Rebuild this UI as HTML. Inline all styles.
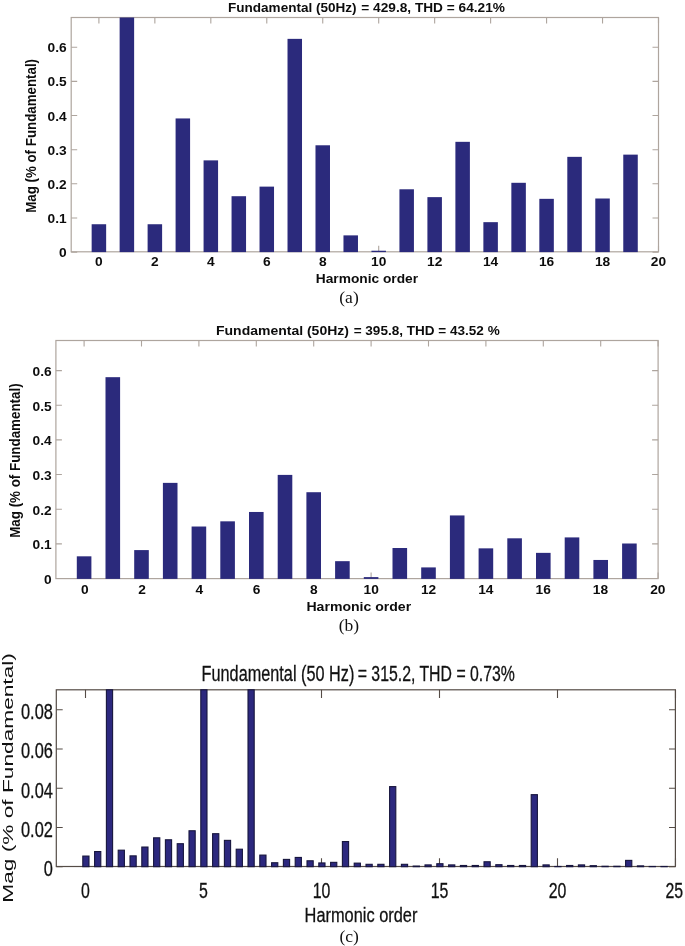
<!DOCTYPE html>
<html><head><meta charset="utf-8"><title>Harmonic spectra</title>
<style>
html,body{margin:0;padding:0;background:#fff;}
body{width:685px;height:946px;overflow:hidden;}
svg{display:block;font-family:"Liberation Sans",sans-serif;filter:blur(0.35px);}
.b{font-weight:bold;fill:#0c0c0c;}
.cap{font-family:"Liberation Serif",serif;fill:#111;}
.c{fill:#111;stroke:#111;stroke-width:0.3px;}
.cy{fill:#111;}
</style></head><body>
<svg width="685" height="946" viewBox="0 0 685 946">
<rect width="685" height="946" fill="#fff"/>
<g>
<path d="M98.90 251.8v-6M98.90 17.5v6M154.86 251.8v-6M154.86 17.5v6M210.82 251.8v-6M210.82 17.5v6M266.78 251.8v-6M266.78 17.5v6M322.74 251.8v-6M322.74 17.5v6M378.70 251.8v-6M378.70 17.5v6M434.66 251.8v-6M434.66 17.5v6M490.62 251.8v-6M490.62 17.5v6M546.58 251.8v-6M546.58 17.5v6M602.54 251.8v-6M602.54 17.5v6M658.50 251.8v-6M658.50 17.5v6M71.2 252.10h6M658.5 252.10h-6M71.2 217.96h6M658.5 217.96h-6M71.2 183.82h6M658.5 183.82h-6M71.2 149.68h6M658.5 149.68h-6M71.2 115.54h6M658.5 115.54h-6M71.2 81.40h6M658.5 81.40h-6M71.2 47.26h6M658.5 47.26h-6" stroke="#aea59e" stroke-width="1.1" fill="none"/>
<rect x="71.2" y="17.5" width="587.30" height="234.30" fill="none" stroke="#aea59e" stroke-width="1.2"/>
<rect x="91.65" y="224.24" width="14.50" height="27.86" fill="#2b2a7c"/>
<rect x="119.63" y="17.50" width="14.50" height="234.60" fill="#2b2a7c"/>
<rect x="147.61" y="224.24" width="14.50" height="27.86" fill="#2b2a7c"/>
<rect x="175.59" y="118.44" width="14.50" height="133.66" fill="#2b2a7c"/>
<rect x="203.57" y="160.37" width="14.50" height="91.73" fill="#2b2a7c"/>
<rect x="231.55" y="196.21" width="14.50" height="55.89" fill="#2b2a7c"/>
<rect x="259.53" y="186.62" width="14.50" height="65.48" fill="#2b2a7c"/>
<rect x="287.51" y="38.86" width="14.50" height="213.24" fill="#2b2a7c"/>
<rect x="315.49" y="145.28" width="14.50" height="106.82" fill="#2b2a7c"/>
<rect x="343.47" y="235.37" width="14.50" height="16.73" fill="#2b2a7c"/>
<rect x="371.45" y="250.73" width="14.50" height="1.37" fill="#2b2a7c"/>
<rect x="399.43" y="189.28" width="14.50" height="62.82" fill="#2b2a7c"/>
<rect x="427.41" y="197.13" width="14.50" height="54.97" fill="#2b2a7c"/>
<rect x="455.39" y="141.83" width="14.50" height="110.27" fill="#2b2a7c"/>
<rect x="483.37" y="222.16" width="14.50" height="29.94" fill="#2b2a7c"/>
<rect x="511.35" y="182.80" width="14.50" height="69.30" fill="#2b2a7c"/>
<rect x="539.33" y="198.84" width="14.50" height="53.26" fill="#2b2a7c"/>
<rect x="567.31" y="156.85" width="14.50" height="95.25" fill="#2b2a7c"/>
<rect x="595.29" y="198.50" width="14.50" height="53.60" fill="#2b2a7c"/>
<rect x="623.27" y="154.63" width="14.50" height="97.47" fill="#2b2a7c"/>
<text transform="translate(98.90 266.20) scale(1.075 1)" text-anchor="middle" class="b" font-size="12.8">0</text>
<text transform="translate(154.86 266.20) scale(1.075 1)" text-anchor="middle" class="b" font-size="12.8">2</text>
<text transform="translate(210.82 266.20) scale(1.075 1)" text-anchor="middle" class="b" font-size="12.8">4</text>
<text transform="translate(266.78 266.20) scale(1.075 1)" text-anchor="middle" class="b" font-size="12.8">6</text>
<text transform="translate(322.74 266.20) scale(1.075 1)" text-anchor="middle" class="b" font-size="12.8">8</text>
<text transform="translate(378.70 266.20) scale(1.075 1)" text-anchor="middle" class="b" font-size="12.8">10</text>
<text transform="translate(434.66 266.20) scale(1.075 1)" text-anchor="middle" class="b" font-size="12.8">12</text>
<text transform="translate(490.62 266.20) scale(1.075 1)" text-anchor="middle" class="b" font-size="12.8">14</text>
<text transform="translate(546.58 266.20) scale(1.075 1)" text-anchor="middle" class="b" font-size="12.8">16</text>
<text transform="translate(602.54 266.20) scale(1.075 1)" text-anchor="middle" class="b" font-size="12.8">18</text>
<text transform="translate(658.50 266.20) scale(1.075 1)" text-anchor="middle" class="b" font-size="12.8">20</text>
<text transform="translate(66.60 257.10) scale(1.075 1)" text-anchor="end" class="b" font-size="12.8">0</text>
<text transform="translate(66.60 222.96) scale(1.075 1)" text-anchor="end" class="b" font-size="12.8">0.1</text>
<text transform="translate(66.60 188.82) scale(1.075 1)" text-anchor="end" class="b" font-size="12.8">0.2</text>
<text transform="translate(66.60 154.68) scale(1.075 1)" text-anchor="end" class="b" font-size="12.8">0.3</text>
<text transform="translate(66.60 120.54) scale(1.075 1)" text-anchor="end" class="b" font-size="12.8">0.4</text>
<text transform="translate(66.60 86.40) scale(1.075 1)" text-anchor="end" class="b" font-size="12.8">0.5</text>
<text transform="translate(66.60 52.26) scale(1.075 1)" text-anchor="end" class="b" font-size="12.8">0.6</text>
<text transform="translate(228.00 11.50) scale(1.042 1)" text-anchor="start" class="b" font-size="13">Fundamental (50Hz)</text>
<text transform="translate(504.90 11.50) scale(1.053 1)" text-anchor="end" class="b" font-size="13">= 429.8, THD = 64.21%</text>
<text transform="translate(366.90 283.10) scale(1.1 1)" text-anchor="middle" class="b" font-size="12.5">Harmonic order</text>
<text transform="translate(35.90 135.90) rotate(-90) scale(1.066 1.24)" text-anchor="middle" class="b" font-size="12.5">Mag (% of Fundamental)</text>
<text transform="translate(349.00 302.50) scale(1 1)" text-anchor="middle" class="cap" font-size="17.5">(a)</text>
</g>
<g>
<path d="M84.10 578.6v-6M84.10 340.5v6M141.50 578.6v-6M141.50 340.5v6M198.90 578.6v-6M198.90 340.5v6M256.30 578.6v-6M256.30 340.5v6M313.70 578.6v-6M313.70 340.5v6M371.10 578.6v-6M371.10 340.5v6M428.50 578.6v-6M428.50 340.5v6M485.90 578.6v-6M485.90 340.5v6M543.30 578.6v-6M543.30 340.5v6M600.70 578.6v-6M600.70 340.5v6M658.10 578.6v-6M658.10 340.5v6M55.9 578.50h6M658.1 578.50h-6M55.9 543.85h6M658.1 543.85h-6M55.9 509.20h6M658.1 509.20h-6M55.9 474.55h6M658.1 474.55h-6M55.9 439.90h6M658.1 439.90h-6M55.9 405.25h6M658.1 405.25h-6M55.9 370.60h6M658.1 370.60h-6" stroke="#aea59e" stroke-width="1.1" fill="none"/>
<rect x="55.9" y="340.5" width="602.20" height="238.10" fill="none" stroke="#aea59e" stroke-width="1.2"/>
<rect x="76.80" y="556.32" width="14.60" height="22.58" fill="#2b2a7c"/>
<rect x="105.50" y="377.18" width="14.60" height="201.72" fill="#2b2a7c"/>
<rect x="134.20" y="550.09" width="14.60" height="28.81" fill="#2b2a7c"/>
<rect x="162.90" y="482.87" width="14.60" height="96.03" fill="#2b2a7c"/>
<rect x="191.60" y="526.52" width="14.60" height="52.38" fill="#2b2a7c"/>
<rect x="220.30" y="521.33" width="14.60" height="57.57" fill="#2b2a7c"/>
<rect x="249.00" y="511.97" width="14.60" height="66.93" fill="#2b2a7c"/>
<rect x="277.70" y="474.90" width="14.60" height="104.00" fill="#2b2a7c"/>
<rect x="306.40" y="492.22" width="14.60" height="86.68" fill="#2b2a7c"/>
<rect x="335.10" y="561.17" width="14.60" height="17.73" fill="#2b2a7c"/>
<rect x="363.80" y="577.11" width="14.60" height="1.79" fill="#2b2a7c"/>
<rect x="392.50" y="548.01" width="14.60" height="30.89" fill="#2b2a7c"/>
<rect x="421.20" y="567.41" width="14.60" height="11.49" fill="#2b2a7c"/>
<rect x="449.90" y="515.44" width="14.60" height="63.46" fill="#2b2a7c"/>
<rect x="478.60" y="548.35" width="14.60" height="30.55" fill="#2b2a7c"/>
<rect x="507.30" y="538.31" width="14.60" height="40.59" fill="#2b2a7c"/>
<rect x="536.00" y="552.86" width="14.60" height="26.04" fill="#2b2a7c"/>
<rect x="564.70" y="537.41" width="14.60" height="41.49" fill="#2b2a7c"/>
<rect x="593.40" y="559.96" width="14.60" height="18.94" fill="#2b2a7c"/>
<rect x="622.10" y="543.50" width="14.60" height="35.40" fill="#2b2a7c"/>
<text transform="translate(84.70 593.60) scale(1.075 1)" text-anchor="middle" class="b" font-size="12.8">0</text>
<text transform="translate(142.01 593.60) scale(1.075 1)" text-anchor="middle" class="b" font-size="12.8">2</text>
<text transform="translate(199.32 593.60) scale(1.075 1)" text-anchor="middle" class="b" font-size="12.8">4</text>
<text transform="translate(256.63 593.60) scale(1.075 1)" text-anchor="middle" class="b" font-size="12.8">6</text>
<text transform="translate(313.94 593.60) scale(1.075 1)" text-anchor="middle" class="b" font-size="12.8">8</text>
<text transform="translate(371.25 593.60) scale(1.075 1)" text-anchor="middle" class="b" font-size="12.8">10</text>
<text transform="translate(428.56 593.60) scale(1.075 1)" text-anchor="middle" class="b" font-size="12.8">12</text>
<text transform="translate(485.87 593.60) scale(1.075 1)" text-anchor="middle" class="b" font-size="12.8">14</text>
<text transform="translate(543.18 593.60) scale(1.075 1)" text-anchor="middle" class="b" font-size="12.8">16</text>
<text transform="translate(600.49 593.60) scale(1.075 1)" text-anchor="middle" class="b" font-size="12.8">18</text>
<text transform="translate(657.80 593.60) scale(1.075 1)" text-anchor="middle" class="b" font-size="12.8">20</text>
<text transform="translate(51.70 583.90) scale(1.075 1)" text-anchor="end" class="b" font-size="12.8">0</text>
<text transform="translate(51.70 549.25) scale(1.075 1)" text-anchor="end" class="b" font-size="12.8">0.1</text>
<text transform="translate(51.70 514.60) scale(1.075 1)" text-anchor="end" class="b" font-size="12.8">0.2</text>
<text transform="translate(51.70 479.95) scale(1.075 1)" text-anchor="end" class="b" font-size="12.8">0.3</text>
<text transform="translate(51.70 445.30) scale(1.075 1)" text-anchor="end" class="b" font-size="12.8">0.4</text>
<text transform="translate(51.70 410.65) scale(1.075 1)" text-anchor="end" class="b" font-size="12.8">0.5</text>
<text transform="translate(51.70 376.00) scale(1.075 1)" text-anchor="end" class="b" font-size="12.8">0.6</text>
<text transform="translate(216.00 334.60) scale(1.077 1)" text-anchor="start" class="b" font-size="13">Fundamental (50Hz)</text>
<text transform="translate(499.70 334.60) scale(1.043 1)" text-anchor="end" class="b" font-size="13">= 395.8, THD = 43.52 %</text>
<text transform="translate(358.80 610.70) scale(1.126 1)" text-anchor="middle" class="b" font-size="12.5">Harmonic order</text>
<text transform="translate(20.30 460.60) rotate(-90) scale(1.07 1.22)" text-anchor="middle" class="b" font-size="12.5">Mag (% of Fundamental)</text>
<text transform="translate(349.00 631.20) scale(1 1)" text-anchor="middle" class="cap" font-size="17.5">(b)</text>
</g>
<g>
<path d="M85.50 866.5v-8.3M85.50 689.8v8.3M203.50 866.5v-8.3M203.50 689.8v8.3M321.50 866.5v-8.3M321.50 689.8v8.3M439.50 866.5v-8.3M439.50 689.8v8.3M557.50 866.5v-8.3M557.50 689.8v8.3M675.50 866.5v-8.3M675.50 689.8v8.3M56.3 866.70h6.4M675.4 866.70h-6.4M56.3 827.46h6.4M675.4 827.46h-6.4M56.3 788.22h6.4M675.4 788.22h-6.4M56.3 748.98h6.4M675.4 748.98h-6.4M56.3 709.74h6.4M675.4 709.74h-6.4" stroke="#554c46" stroke-width="1.1" fill="none"/>
<rect x="56.3" y="689.8" width="619.10" height="176.70" fill="none" stroke="#554c46" stroke-width="1.2"/>
<rect x="82.80" y="856.07" width="6.20" height="10.63" fill="#2c287e" stroke="#17153d" stroke-width="1.1"/>
<rect x="94.60" y="851.55" width="6.20" height="15.15" fill="#2c287e" stroke="#17153d" stroke-width="1.1"/>
<rect x="106.40" y="689.80" width="6.20" height="176.90" fill="#2c287e" stroke="#17153d" stroke-width="1.1"/>
<rect x="118.20" y="850.18" width="6.20" height="16.52" fill="#2c287e" stroke="#17153d" stroke-width="1.1"/>
<rect x="130.00" y="855.87" width="6.20" height="10.83" fill="#2c287e" stroke="#17153d" stroke-width="1.1"/>
<rect x="141.80" y="847.04" width="6.20" height="19.66" fill="#2c287e" stroke="#17153d" stroke-width="1.1"/>
<rect x="153.60" y="837.82" width="6.20" height="28.88" fill="#2c287e" stroke="#17153d" stroke-width="1.1"/>
<rect x="165.40" y="839.78" width="6.20" height="26.92" fill="#2c287e" stroke="#17153d" stroke-width="1.1"/>
<rect x="177.20" y="843.71" width="6.20" height="22.99" fill="#2c287e" stroke="#17153d" stroke-width="1.1"/>
<rect x="189.00" y="830.76" width="6.20" height="35.94" fill="#2c287e" stroke="#17153d" stroke-width="1.1"/>
<rect x="200.80" y="689.80" width="6.20" height="176.90" fill="#2c287e" stroke="#17153d" stroke-width="1.1"/>
<rect x="212.60" y="833.70" width="6.20" height="33.00" fill="#2c287e" stroke="#17153d" stroke-width="1.1"/>
<rect x="224.40" y="840.37" width="6.20" height="26.33" fill="#2c287e" stroke="#17153d" stroke-width="1.1"/>
<rect x="236.20" y="849.20" width="6.20" height="17.50" fill="#2c287e" stroke="#17153d" stroke-width="1.1"/>
<rect x="248.00" y="689.80" width="6.20" height="176.90" fill="#2c287e" stroke="#17153d" stroke-width="1.1"/>
<rect x="259.80" y="855.09" width="6.20" height="11.61" fill="#2c287e" stroke="#17153d" stroke-width="1.1"/>
<rect x="271.60" y="862.74" width="6.20" height="3.96" fill="#2c287e" stroke="#17153d" stroke-width="1.1"/>
<rect x="283.40" y="859.40" width="6.20" height="7.30" fill="#2c287e" stroke="#17153d" stroke-width="1.1"/>
<rect x="295.20" y="857.44" width="6.20" height="9.26" fill="#2c287e" stroke="#17153d" stroke-width="1.1"/>
<rect x="307.00" y="860.78" width="6.20" height="5.92" fill="#2c287e" stroke="#17153d" stroke-width="1.1"/>
<rect x="318.80" y="862.93" width="6.20" height="3.77" fill="#2c287e" stroke="#17153d" stroke-width="1.1"/>
<rect x="330.60" y="862.35" width="6.20" height="4.36" fill="#2c287e" stroke="#17153d" stroke-width="1.1"/>
<rect x="342.40" y="841.55" width="6.20" height="25.15" fill="#2c287e" stroke="#17153d" stroke-width="1.1"/>
<rect x="354.20" y="863.13" width="6.20" height="3.57" fill="#2c287e" stroke="#17153d" stroke-width="1.1"/>
<rect x="366.00" y="864.31" width="6.20" height="2.39" fill="#2c287e" stroke="#17153d" stroke-width="1.1"/>
<rect x="377.80" y="864.31" width="6.20" height="2.39" fill="#2c287e" stroke="#17153d" stroke-width="1.1"/>
<rect x="389.60" y="786.61" width="6.20" height="80.09" fill="#2c287e" stroke="#17153d" stroke-width="1.1"/>
<rect x="401.40" y="864.31" width="6.20" height="2.39" fill="#2c287e" stroke="#17153d" stroke-width="1.1"/>
<rect x="413.20" y="866.07" width="6.20" height="0.63" fill="#2c287e" stroke="#17153d" stroke-width="1.1"/>
<rect x="425.00" y="864.90" width="6.20" height="1.80" fill="#2c287e" stroke="#17153d" stroke-width="1.1"/>
<rect x="436.80" y="863.72" width="6.20" height="2.98" fill="#2c287e" stroke="#17153d" stroke-width="1.1"/>
<rect x="448.60" y="864.90" width="6.20" height="1.80" fill="#2c287e" stroke="#17153d" stroke-width="1.1"/>
<rect x="460.40" y="865.48" width="6.20" height="1.22" fill="#2c287e" stroke="#17153d" stroke-width="1.1"/>
<rect x="472.20" y="865.48" width="6.20" height="1.22" fill="#2c287e" stroke="#17153d" stroke-width="1.1"/>
<rect x="484.00" y="861.76" width="6.20" height="4.94" fill="#2c287e" stroke="#17153d" stroke-width="1.1"/>
<rect x="495.80" y="864.70" width="6.20" height="2.00" fill="#2c287e" stroke="#17153d" stroke-width="1.1"/>
<rect x="507.60" y="865.48" width="6.20" height="1.22" fill="#2c287e" stroke="#17153d" stroke-width="1.1"/>
<rect x="519.40" y="865.48" width="6.20" height="1.22" fill="#2c287e" stroke="#17153d" stroke-width="1.1"/>
<rect x="531.20" y="794.66" width="6.20" height="72.04" fill="#2c287e" stroke="#17153d" stroke-width="1.1"/>
<rect x="543.00" y="864.90" width="6.20" height="1.80" fill="#2c287e" stroke="#17153d" stroke-width="1.1"/>
<rect x="554.80" y="866.47" width="6.20" height="0.23" fill="#2c287e" stroke="#17153d" stroke-width="1.1"/>
<rect x="566.60" y="865.48" width="6.20" height="1.22" fill="#2c287e" stroke="#17153d" stroke-width="1.1"/>
<rect x="578.40" y="864.90" width="6.20" height="1.80" fill="#2c287e" stroke="#17153d" stroke-width="1.1"/>
<rect x="590.20" y="865.68" width="6.20" height="1.02" fill="#2c287e" stroke="#17153d" stroke-width="1.1"/>
<rect x="602.00" y="866.27" width="6.20" height="0.43" fill="#2c287e" stroke="#17153d" stroke-width="1.1"/>
<rect x="613.80" y="866.27" width="6.20" height="0.43" fill="#2c287e" stroke="#17153d" stroke-width="1.1"/>
<rect x="625.60" y="860.38" width="6.20" height="6.32" fill="#2c287e" stroke="#17153d" stroke-width="1.1"/>
<rect x="637.40" y="865.88" width="6.20" height="0.82" fill="#2c287e" stroke="#17153d" stroke-width="1.1"/>
<rect x="649.20" y="866.47" width="6.20" height="0.23" fill="#2c287e" stroke="#17153d" stroke-width="1.1"/>
<rect x="661.00" y="866.47" width="6.20" height="0.23" fill="#2c287e" stroke="#17153d" stroke-width="1.1"/>
<text transform="translate(85.50 898.20) scale(0.74 1)" text-anchor="middle" class="c" font-size="21.5">0</text>
<text transform="translate(203.50 898.20) scale(0.74 1)" text-anchor="middle" class="c" font-size="21.5">5</text>
<text transform="translate(321.50 898.20) scale(0.74 1)" text-anchor="middle" class="c" font-size="21.5">10</text>
<text transform="translate(439.50 898.20) scale(0.74 1)" text-anchor="middle" class="c" font-size="21.5">15</text>
<text transform="translate(557.50 898.20) scale(0.74 1)" text-anchor="middle" class="c" font-size="21.5">20</text>
<text transform="translate(674.30 898.20) scale(0.74 1)" text-anchor="middle" class="c" font-size="21.5">25</text>
<text transform="translate(52.90 876.00) scale(0.762 1)" text-anchor="end" class="c" font-size="21.5">0</text>
<text transform="translate(52.90 836.76) scale(0.762 1)" text-anchor="end" class="c" font-size="21.5">0.02</text>
<text transform="translate(52.90 797.52) scale(0.762 1)" text-anchor="end" class="c" font-size="21.5">0.04</text>
<text transform="translate(52.90 758.28) scale(0.762 1)" text-anchor="end" class="c" font-size="21.5">0.06</text>
<text transform="translate(52.90 719.04) scale(0.762 1)" text-anchor="end" class="c" font-size="21.5">0.08</text>
<text transform="translate(201.60 681.00) scale(0.76 1)" text-anchor="start" class="c" font-size="21.4">Fundamental (50 Hz)</text>
<text transform="translate(514.90 681.00) scale(0.74 1)" text-anchor="end" class="c" font-size="21.4">= 315.2, THD = 0.73%</text>
<text transform="translate(361.00 921.80) scale(0.78 1)" text-anchor="middle" class="c" font-size="21">Harmonic order</text>
<text transform="translate(12.90 777.90) rotate(-90) scale(1.513 1)" text-anchor="middle" class="cy" font-size="15">Mag (% of Fundamental)</text>
<text transform="translate(349.10 942.20) scale(1 1)" text-anchor="middle" class="cap" font-size="17.5">(c)</text>
</g>
</svg></body></html>
